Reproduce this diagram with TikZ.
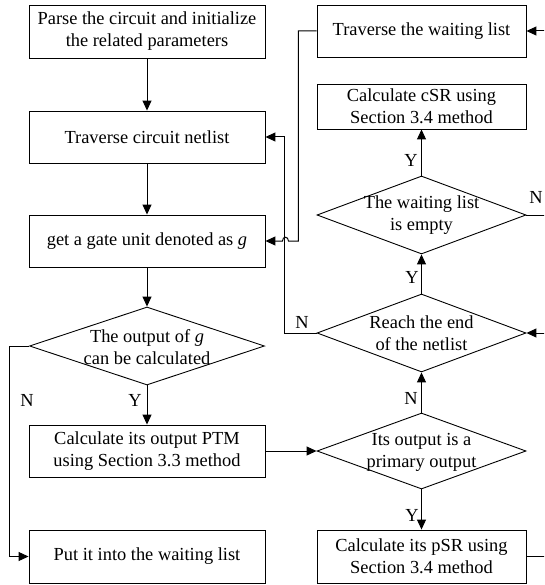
\documentclass[tikz,border=0pt]{standalone}
\usepackage{fontspec}
\setmainfont{Liberation Serif}
\usetikzlibrary{arrows.meta,shapes.geometric}
\begin{document}
\begin{tikzpicture}[x=1pt,y=-1pt,
  every node/.style={font=\fontsize{18.4}{22}\selectfont},
  box/.style={draw, line width=0.9pt, inner sep=0pt, align=center},
  lbox/.style={box, minimum width=236pt, minimum height=52pt},
  rbox/.style={box, minimum width=209pt, minimum height=52pt},
  decision/.style={draw, diamond, line width=0.9pt, inner sep=0pt, minimum width=209pt, minimum height=78pt},
  txt/.style={align=center, inner sep=0pt},
  tag/.style={inner sep=0pt},
  link/.style={line width=1pt},
  arr/.style={link, -{Triangle[length=10pt,width=9pt]}}]
\useasboundingbox (0,0) rectangle (544,585);
\clip (0,0) rectangle (544,585);

% left column
\node[lbox, minimum height=53pt] (parse) at (147,31.5) {Parse the circuit and initialize\\the related parameters};
\node[lbox] (trav) at (147,137) {Traverse circuit netlist};
\node[lbox] (gate) at (147,241) {get a gate unit denoted as \textit{g}};
\node[decision, minimum width=235pt] (calc) at (147,346) {};
\node[txt] (calctxt) at (147,347) {The output of \textit{g}\\can be calculated};
\node[lbox] (ptm) at (147,451) {Calculate its output PTM\\using Section 3.3 method};
\node[lbox, minimum height=53pt] (put) at (147,556.5) {Put it into the waiting list};

% right column
\node[rbox] (travw) at (421.5,31) {Traverse the waiting list};
\node[rbox, minimum height=45pt] (csr) at (421.5,106.5) {Calculate cSR using\\Section 3.4 method};
\node[decision] (empty) at (421.5,215) {};
\node[txt] (emptytxt) at (421.5,215) {The waiting list\\is empty};
\node[decision] (reach) at (421.5,333) {};
\node[txt] (reachtxt) at (421.5,333) {Reach the end\\of the netlist};
\node[decision, minimum height=76pt] (prim) at (421.5,451) {};
\node[txt] (primtxt) at (421.5,452) {Its output is a\\primary output};
\node[rbox, minimum height=53pt] (psr) at (421.5,556.5) {Calculate its pSR using\\Section 3.4 method};

% main flow
\draw[arr] (parse.south) -- (trav.north);
\draw[arr] (trav.south) -- (gate.north);
\draw[arr] (gate.south) -- (calc.north);
\draw[arr] (calc.south) -- (ptm.north);
\draw[arr] (calc.west) -- ++(-20,0) |- (put.west);
\draw[arr] (ptm.east) -- (prim.west);
\draw[arr] (prim.south) -- (psr.north);
\draw[arr] (prim.north) -- (reach.south);
\draw[arr] (reach.north) -- (empty.south);
\draw[arr] (empty.north) -- (csr.south);
\draw[arr] (reach.west) -- ++(-32,0) |- (trav.east);
\draw[arr] (travw.west) -| ([xshift=33pt]gate.east)
  -- ([xshift=23pt]gate.east)
  .. controls +(0,-5) and +(0,-5) .. ([xshift=17pt]gate.east)
  -- (gate.east);
\draw[arr] (empty.east) -- ++(24,0) |- (travw.east);
\draw[arr] (psr.east) -- ++(24,0) |- (reach.east);

% branch labels
\node[tag] (n1) at (27,400) {N};
\node[tag] (y1) at (135,400) {Y};
\node[tag] (n2) at (302,322) {N};
\node[tag] (y2) at (412,277) {Y};
\node[tag] (n3) at (536,197) {N};
\node[tag] (y3) at (411,160) {Y};
\node[tag] (n4) at (411,398) {N};
\node[tag] (y4) at (412,515) {Y};
\end{tikzpicture}
\end{document}
